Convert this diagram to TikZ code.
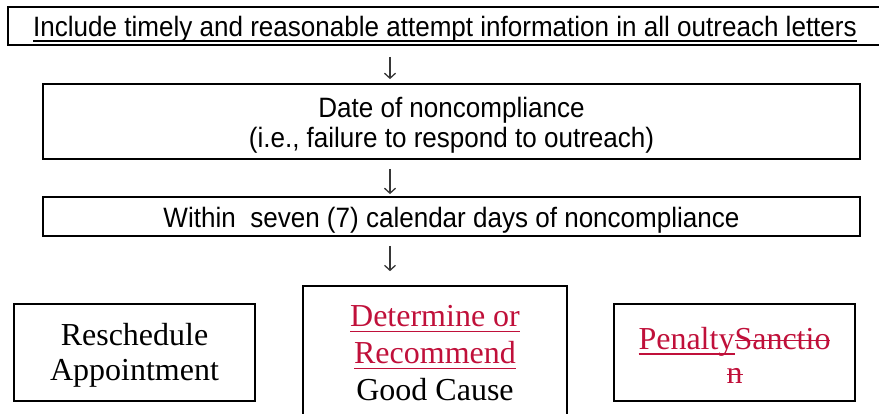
\documentclass[tikz,border=0pt]{standalone}
\usepackage{fontspec}
\setmainfont{Liberation Serif}
\setsansfont{Liberation Sans}[FakeStretch=0.93]
\usetikzlibrary{arrows.meta}
\definecolor{trackred}{RGB}{192,16,58}
\definecolor{arrowgray}{RGB}{55,55,55}
\newsavebox{\markbox}
\newcommand{\ulined}[1]{\sbox{\markbox}{#1}\rlap{\raisebox{-0.18em}{\rule{\wd\markbox}{1.6pt}}}\usebox{\markbox}}
\newcommand{\struck}[1]{\sbox{\markbox}{#1}\rlap{\raisebox{0.25em}{\rule{\wd\markbox}{1.5pt}}}\usebox{\markbox}}

\begin{document}
\begin{tikzpicture}[x=1pt,y=-1pt,>={Straight Barb[length=5pt,width=11pt]},
		stepbox/.style={rectangle,draw=black,line width=1.8pt,inner sep=0pt,align=center,
			font=\sffamily\fontsize{28}{30}\selectfont},
		outbox/.style={rectangle,draw=black,line width=1.6pt,inner sep=0pt,align=center,
			minimum width=241pt,minimum height=97pt,font=\fontsize{32}{35}\selectfont},
		flow/.style={->,draw=arrowgray,line width=1.3pt}]
		\clip (0,0) rectangle (879,414);
		
		\node[stepbox,minimum width=874pt,minimum height=38pt,text height=26pt,text depth=4pt]
		(letters) at (445,26) {\ulined{Include timely and reasonable attempt information in all outreach letters}};
		\node[stepbox,minimum width=817pt,minimum height=75pt] (date) at (451.5,121.5)
		{\rule{0pt}{27pt}Date of noncompliance\\(i.e., failure to respond to outreach)};
		\node[stepbox,minimum width=817pt,minimum height=39pt,text height=27pt,text depth=4pt]
		(within) at (451.5,216.5) {Within\ \ seven (7) calendar days of noncompliance};
		
		\node[outbox] (resched) at (134.5,352.5) {\rule{0pt}{27pt}Reschedule\\Appointment};
		\node[outbox,minimum width=264pt,minimum height=134pt,font=\fontsize{32}{37}\selectfont] (cause) at (435,353)
		{\textcolor{trackred}{\ulined{Determine or}}\\\textcolor{trackred}{\ulined{Recommend}}\\Good Cause};
		\node[outbox,font=\fontsize{32}{34}\selectfont] (penalty) at (734.5,352.5)
		{\color{trackred}\rule{0pt}{27pt}\ulined{Penalty}\struck{Sanctio}\\\color{trackred}\struck{n}};
		
		\coordinate (col) at (390,0);
		\draw[flow,shorten <=11pt,shorten >=4pt] (letters.south -| col) -- (date.north -| col);
		\draw[flow,shorten <=9pt,shorten >=2pt] (date.south -| col) -- (within.north -| col);
		\draw[flow,shorten <=9pt,shorten >=14pt] (within.south -| col) -- (cause.north -| col);
\end{tikzpicture}
\end{document}
